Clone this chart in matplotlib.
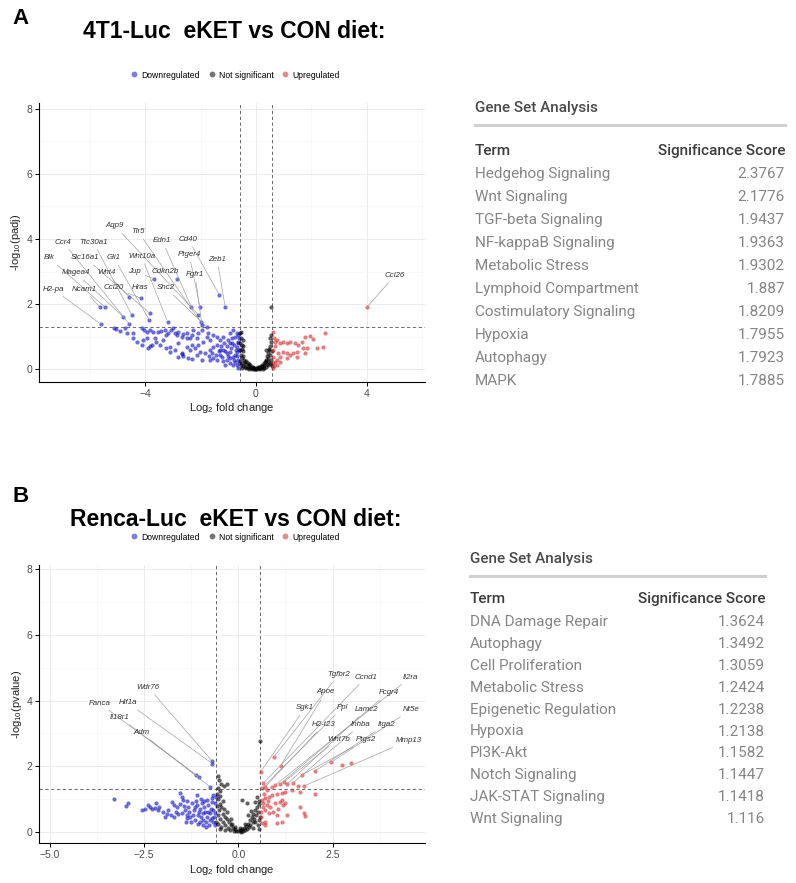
import matplotlib
matplotlib.use('Agg')
import matplotlib.pyplot as plt
from matplotlib.ticker import MultipleLocator
from matplotlib.lines import Line2D

plt.rcParams['font.family'] = ['Liberation Sans', 'DejaVu Sans']
plt.rcParams['mathtext.fontset'] = 'custom'
plt.rcParams['mathtext.rm'] = 'Liberation Sans'
plt.rcParams['mathtext.it'] = 'Liberation Sans:italic'

# ---- panel A : 4T1-Luc volcano (log2FC, -log10 padj) ----
a_down_x = [-5.63, -5.44, -5.61, -4.79, -4.60, -4.57, -4.48, -4.14, -3.83, -3.85, -3.68, -3.19, -2.86, -2.33,
            -2.02, -2.08, -2.00, -1.32, -1.11, -1.78, -1.95,
            -5.13, -5.06, -4.91, -4.73, -4.67, -4.43, -4.13, -4.04, -3.95, -3.83, -3.71, -3.53, -3.41, -3.29,
            -3.17, -3.05, -2.99, -2.92, -2.86, -2.80, -2.68, -2.62, -2.50, -2.38, -2.26, -2.14, -2.08, -1.96,
            -1.90, -1.78, -1.66, -1.54, -1.42, -1.30, -1.18, -1.06, -0.94, -0.88, -0.82, -0.76, -0.70, -0.64,
            -0.60, -0.94, -0.82, -1.12, -1.00, -0.70, -1.66, -1.84, -2.02, -2.20, -2.38, -2.50, -2.68, -2.80,
            -2.92, -3.11, -3.23, -3.47, -3.59, -3.77, -3.89, -4.07, -4.31, -4.43, -3.95, -3.65, -3.35, -3.23,
            -2.80, -2.32, -2.14, -1.96, -1.66, -1.42, -1.24, -1.06, -0.94, -0.76, -0.70, -0.64, -0.60, -0.64,
            -0.82, -0.94, -1.18, -1.30, -1.42, -1.54, -1.72, -2.08, -2.32, -2.50, -2.65, -2.44, -2.30, -4.13,
            -3.11, -3.83, -2.68, -0.65, -0.70, -0.75, -0.80, -0.68, -0.72, -0.78, -0.90, -1.00, -1.10, -1.20,
            -1.30, -0.62, -0.66, -0.85, -0.95, -1.05, -1.15, -1.25, -1.35, -1.45, -1.55, -1.60, -1.70]
a_down_y = [1.90, 1.90, 1.39, 1.61, 2.23, 1.39, 1.67, 2.18, 1.72, 1.51, 2.78, 1.46, 2.77, 1.90,
            1.90, 1.67, 1.46, 2.28, 1.90, 1.31, 1.36,
            1.26, 1.23, 1.18, 1.26, 1.10, 1.12, 1.26, 1.20, 1.15, 1.20, 1.15, 1.15, 1.18, 1.20,
            1.10, 1.20, 1.26, 1.10, 1.05, 1.15, 1.00, 1.08, 0.95, 0.95, 1.20, 0.95, 0.74, 1.20,
            0.85, 1.00, 0.90, 0.69, 0.74, 0.59, 0.59, 0.49, 0.54, 0.80, 0.39, 1.00, 0.69, 0.29,
            0.18, 0.18, 0.13, 0.13, 0.90, 1.10, 0.59, 0.49, 0.54, 0.64, 0.59, 0.69, 0.49, 0.39,
            0.59, 0.69, 0.64, 0.74, 0.85, 0.74, 0.64, 0.90, 0.85, 0.95, 0.95, 0.95, 0.90, 1.05,
            0.80, 0.74, 0.44, 0.29, 0.29, 0.29, 0.39, 0.29, 0.34, 0.44, 0.54, 0.80, 0.95, 1.05,
            1.20, 1.10, 1.00, 0.90, 1.00, 1.05, 1.10, 1.10, 1.05, 1.10, 0.41, 0.34, 0.32, 0.74,
            0.54, 0.70, 0.47, 0.05, 0.12, 0.22, 0.30, 0.40, 0.60, 0.75, 0.65, 0.40, 0.55, 0.25,
            0.45, 0.60, 0.85, 0.95, 0.80, 0.70, 0.80, 0.70, 0.55, 0.45, 0.35, 0.50, 0.40]

a_ns_x = [-0.57, -0.55, -0.56, -0.52, -0.50, -0.48, -0.55, -0.50, -0.45, -0.42, -0.40, -0.38, -0.35, -0.30,
          -0.28, -0.25, -0.22, -0.20, -0.18, -0.15, -0.12, -0.10, -0.08, -0.05, -0.02, 0.00, 0.02, 0.05,
          0.08, 0.10, 0.12, 0.15, 0.18, 0.20, 0.22, 0.25, 0.28, 0.30, 0.32, 0.35, 0.38, 0.40, 0.42, 0.44,
          0.46, 0.48, 0.50, 0.52, 0.54, 0.56, 0.55, 0.50, 0.45, -0.57, -0.55, -0.50, -0.45, -0.52, -0.58,
          -0.53, -0.35, -0.30, 0.30, 0.35, 0.40, 0.53, 0.57, 0.58, -0.25, 0.25, -0.15, 0.15, -0.40, 0.45,
          -0.48, -0.46, 0.38, 0.50, 0.55]
a_ns_y = [1.10, 0.95, 0.80, 0.75, 0.62, 0.55, 0.45, 0.35, 0.42, 0.30, 0.22, 0.15, 0.25, 0.18,
          0.10, 0.15, 0.06, 0.12, 0.05, 0.08, 0.03, 0.06, 0.02, 0.04, 0.01, 0.02, 0.05, 0.02,
          0.06, 0.03, 0.08, 0.05, 0.10, 0.06, 0.14, 0.10, 0.18, 0.12, 0.22, 0.30, 0.25, 0.40, 0.50, 0.35,
          0.62, 0.58, 0.70, 0.45, 0.85, 0.30, 0.15, 0.20, 0.12, 0.25, 0.12, 0.05, 0.10, 0.20, 0.60,
          1.15, 0.05, 0.04, 0.03, 0.07, 0.15, 1.90, 0.55, 0.10, 0.02, 0.02, 0.01, 0.01, 0.08, 0.25,
          0.90, 0.70, 0.60, 0.95, 1.05]

a_up_x = [0.63, 0.69, 0.75, 0.87, 0.99, 1.11, 1.23, 1.41, 1.53, 1.65, 1.77, 1.95, 2.07, 2.19, 2.49, 2.43,
          1.83, 1.71, 1.47, 1.35, 1.23, 1.11, 0.99, 0.87, 0.81, 0.75, 0.69, 0.63, 0.75, 0.87, 1.11, 1.47,
          1.77, 0.63, 0.62, 0.65, 0.70, 0.60, 0.65, 4.00]
a_up_y = [1.15, 0.85, 0.90, 0.80, 0.85, 0.80, 0.85, 0.80, 0.74, 0.85, 1.00, 1.02, 0.92, 0.64, 1.12, 0.69,
          0.64, 0.64, 0.54, 0.49, 0.44, 0.49, 0.54, 0.39, 0.49, 0.29, 0.23, 0.18, 0.13, 0.23, 0.34, 0.39,
          0.49, 0.39, 0.60, 0.95, 0.70, 0.05, 0.10, 1.90]

a_genes = ['Aqp9', 'Tlr5', 'Edn1', 'Cd40', 'Ccr4', 'Ttc30a1', 'Blk', 'Slc16a1', 'Gli1', 'Wnt10a', 'Ptger4',
           'Zeb1', 'Magea4', 'Wnt4', 'Jup', 'Cdkn2b', 'Fgfr1', 'H2-pa', 'Ncam1', 'Ccl20', 'Hras', 'Shc2', 'Ccl26']
a_gene_x = [-2.08, -2.00, -2.33, -1.32, -4.57, -4.48, -5.44, -3.83, -3.85, -3.19, -2.02, -1.11, -4.79, -4.60,
            -3.68, -2.86, -1.95, -5.61, -5.63, -4.14, -3.68, -1.78, 4.00]
a_gene_y = [1.67, 1.46, 1.90, 2.28, 1.39, 1.67, 1.90, 1.72, 1.51, 1.46, 1.90, 1.90, 1.61, 2.23,
            2.78, 2.77, 1.36, 1.39, 1.90, 2.18, 2.78, 1.31, 1.90]
a_lab_x = [-5.09, -4.25, -3.38, -2.44, -6.96, -5.87, -7.46, -6.17, -5.12, -4.13, -2.41, -1.40, -6.50, -5.39,
           -4.37, -3.26, -2.20, -7.32, -6.21, -5.13, -4.19, -3.26, 5.02]
a_lab_y = [4.40, 4.22, 3.95, 3.99, 3.90, 3.90, 3.42, 3.42, 3.42, 3.47, 3.53, 3.37, 2.96, 2.96,
           3.00, 3.00, 2.90, 2.46, 2.46, 2.50, 2.50, 2.50, 2.89]

# ---- panel B : Renca-Luc volcano (log2FC, -log10 pvalue) ----
b_down_x = [-0.70, -0.69, -1.12, -1.04, -0.75,
            -3.31, -2.98, -2.94, -2.56, -2.47, -2.39, -2.34, -2.30, -2.18, -2.12, -2.10, -1.86, -1.77, -1.71,
            -1.64, -1.55, -1.50, -1.46, -1.41, -1.37, -1.33, -1.28, -1.24, -1.19, -1.15, -1.10, -1.06, -1.02,
            -0.97, -0.93, -0.88, -0.84, -0.80, -0.75, -0.71, -0.66, -0.62, -0.60, -0.66, -0.71, -0.84, -1.10,
            -1.37, -1.02, -0.93, -0.75, -0.62,
            -1.40, -1.30, -1.20, -1.15, -1.05, -0.98, -0.90, -0.85, -0.80, -0.78, -0.72, -0.68, -0.65, -0.63,
            -0.90, -1.00, -0.70, -1.60, -1.70, -1.90, -2.00, -1.55, -1.25, -0.95, -0.85, -1.50, -1.95, -2.20,
            -1.65, -1.80, -1.45, -1.35, -1.12, -1.08]
b_down_y = [2.16, 2.08, 1.73, 1.66, 1.37,
            1.00, 0.79, 0.88, 0.66, 0.71, 0.81, 0.76, 0.68, 0.89, 0.66, 0.76, 0.66, 0.92, 0.81,
            0.76, 1.17, 0.56, 0.97, 0.66, 0.51, 0.76, 0.46, 0.87, 0.66, 0.36, 1.12, 0.51, 0.71,
            0.87, 0.36, 0.61, 0.46, 0.81, 0.56, 0.41, 0.66, 0.87, 1.07, 1.12, 1.02, 0.97, 0.81,
            0.41, 0.31, 0.56, 0.36, 0.56,
            0.30, 0.60, 0.50, 0.75, 0.60, 0.45, 0.75, 0.30, 0.60, 0.22, 0.70, 0.30, 0.45, 0.20,
            0.95, 1.00, 0.90, 0.55, 0.45, 0.55, 0.60, 0.85, 0.30, 0.20, 0.15, 1.05, 0.45, 0.72,
            0.60, 0.50, 0.80, 0.95, 0.95, 0.25]

b_ns_x = [-0.55, -0.52, -0.45, -0.55, -0.50, -0.58, -0.48, -0.55, -0.42, -0.50, -0.58, -0.45, -0.38, -0.52,
          -0.40, -0.55, -0.35, -0.48, -0.30, -0.42, -0.25, -0.55, -0.35, -0.20, -0.45, -0.28, -0.15, -0.50,
          -0.35, -0.22, -0.10, -0.05, 0.00, 0.03, 0.06, 0.10, 0.12, 0.15, 0.18, 0.20, 0.22, 0.25, 0.28,
          0.30, 0.32, 0.35, 0.38, 0.40, 0.42, 0.45, 0.48, 0.50, 0.52, 0.55, 0.57, 0.55, 0.50, 0.45, 0.52,
          0.56, 0.40, -0.12, 0.08, -0.08, 0.05, -0.18, 0.18, -0.30, -0.20, 0.58, 0.10, -0.38, -0.60, 0.25,
          0.33, 0.45, 0.55, 0.23, -0.31]
b_ns_y = [1.70, 1.58, 1.45, 1.35, 1.25, 1.15, 1.10, 1.00, 0.95, 0.85, 0.80, 0.75, 0.70, 0.65,
          0.55, 0.50, 0.45, 0.40, 0.38, 0.30, 0.30, 0.25, 0.22, 0.20, 0.15, 0.12, 0.12, 0.08,
          0.06, 0.05, 0.08, 0.03, 0.02, 0.05, 0.02, 0.08, 0.04, 0.12, 0.06, 0.18, 0.10, 0.25, 0.15,
          0.35, 0.20, 0.45, 0.30, 0.55, 0.40, 0.65, 0.50, 0.75, 0.60, 0.85, 0.45, 0.95, 1.05, 0.30, 0.20,
          0.10, 0.12, 0.01, 0.00, 0.15, 0.12, 0.25, 0.25, 0.60, 0.40, 2.78, 0.98, 1.40, 0.30, 0.50,
          0.62, 0.90, 0.35, 0.89, 1.47]

b_up_x = [0.59, 0.95, 1.12, 0.66, 0.71, 0.62, 0.75, 0.89, 0.97, 1.11, 1.22, 1.30, 1.44, 1.59, 1.68, 1.73,
          2.03, 2.46, 2.74, 2.99, 2.03, 1.64, 1.42, 1.24, 1.15, 1.02, 0.89, 0.80, 0.71, 0.62, 0.66, 0.75,
          0.84, 0.97, 1.11, 1.15, 1.24, 1.19, 1.06, 0.93, 1.02, 1.28, 1.64, 1.73, 1.77, 0.71, 0.62, 1.02,
          1.15, 0.80, 0.71, 0.60, 0.65, 0.60, 0.68, 0.70, 0.78]
b_up_y = [1.83, 2.29, 2.01, 1.48, 1.37, 1.32, 1.27, 1.37, 1.42, 1.46, 1.53, 1.46, 1.48, 1.39, 1.73, 1.39,
          1.85, 2.12, 2.03, 2.11, 1.15, 1.22, 1.27, 1.22, 1.19, 1.15, 1.12, 1.07, 1.02, 0.97, 0.87, 0.82,
          0.76, 0.87, 0.92, 0.97, 0.89, 0.82, 0.71, 0.61, 0.51, 0.51, 0.76, 0.56, 0.48, 0.31, 0.26, 0.26,
          0.31, 0.56, 0.66, 0.60, 0.75, 0.45, 1.15, 0.20, 0.95]

b_genes = ['Wdr76', 'Fanca', 'Hif1a', 'Il18r1', 'Adm', 'Tgfbr2', 'Ccnd1', 'Il2ra', 'Apoe', 'Fcgr4', 'Sgk1',
           'Ppl', 'Lamc2', 'Nt5e', 'H2-t23', 'Inhba', 'Itga2', 'Wnt7b', 'Ptgs2', 'Mmp13']
b_gene_x = [-0.70, -1.12, -0.69, -1.04, -0.75, 0.95, 0.66, 0.97, 1.12, 1.11, 0.59,
            0.62, 1.30, 2.46, 0.71, 1.44, 2.03, 1.22, 1.68, 1.73]
b_gene_y = [2.16, 1.73, 2.08, 1.66, 1.37, 2.29, 1.48, 1.42, 2.01, 1.46, 1.83,
            1.32, 1.46, 2.12, 1.37, 1.48, 1.85, 1.53, 1.73, 1.39]
b_lab_x = [-2.39, -3.69, -2.94, -3.14, -2.58, 2.65, 3.39, 4.57, 2.32, 3.98, 1.77,
           2.76, 3.41, 4.58, 2.27, 3.25, 3.92, 2.65, 3.39, 4.51]
b_lab_y = [4.40, 3.92, 3.93, 3.48, 3.02, 4.78, 4.71, 4.71, 4.27, 4.24, 3.78,
           3.78, 3.73, 3.72, 3.27, 3.27, 3.27, 2.82, 2.80, 2.78]

# ---- gene set tables ----
a_terms = ['Hedgehog Signaling', 'Wnt Signaling', 'TGF-beta Signaling', 'NF-kappaB Signaling',
           'Metabolic Stress', 'Lymphoid Compartment', 'Costimulatory Signaling', 'Hypoxia',
           'Autophagy', 'MAPK']
a_scores = ['2.3767', '2.1776', '1.9437', '1.9363', '1.9302', '1.887', '1.8209', '1.7955', '1.7923', '1.7885']
b_terms = ['DNA Damage Repair', 'Autophagy', 'Cell Proliferation', 'Metabolic Stress',
           'Epigenetic Regulation', 'Hypoxia', 'PI3K-Akt', 'Notch Signaling', 'JAK-STAT Signaling',
           'Wnt Signaling']
b_scores = ['1.3624', '1.3492', '1.3059', '1.2424', '1.2238', '1.2138', '1.1582', '1.1447', '1.1418', '1.116']

W, H = 796, 883
fig = plt.figure(figsize=(W / 100, H / 100), dpi=100)

c_down, c_ns, c_up = '#1212c8', '#000000', '#d42a2a'


def px(x, y):
    return x / W, 1 - y / H


def volcano(rect, dx, dy, nx, ny, ux, uy, genes, gx, gy, lx, ly, xlim, ylim, major, minor, ylab):
    ax = fig.add_axes(rect)
    ax.set_xlim(*xlim)
    ax.set_ylim(*ylim)
    ax.xaxis.set_major_locator(MultipleLocator(major))
    ax.xaxis.set_minor_locator(MultipleLocator(minor))
    ax.yaxis.set_major_locator(MultipleLocator(2))
    ax.yaxis.set_minor_locator(MultipleLocator(1))
    ax.grid(which='major', color='#ebebeb', lw=0.7)
    ax.grid(which='minor', color='#f4f4f4', lw=0.4)
    ax.set_axisbelow(True)
    ax.tick_params(which='minor', length=0)
    ax.tick_params(which='major', length=3, width=0.7, labelsize=7.5, labelcolor='#4d4d4d', pad=2)
    for s in ['top', 'right']:
        ax.spines[s].set_visible(False)
    for s in ['left', 'bottom']:
        ax.spines[s].set_linewidth(0.8)
    ax.scatter(dx, dy, s=9, color=c_down, alpha=0.62, lw=0, zorder=3)
    ax.scatter(nx, ny, s=9, color=c_ns, alpha=0.62, lw=0, zorder=3)
    ax.scatter(ux, uy, s=9, color=c_up, alpha=0.6, lw=0, zorder=3)
    ax.axvline(-0.585, color='#555555', ls=(0, (4, 3)), lw=0.6, zorder=2)
    ax.axvline(0.585, color='#555555', ls=(0, (4, 3)), lw=0.6, zorder=2)
    ax.axhline(1.301, color='#555555', ls=(0, (4, 3)), lw=0.6, zorder=2)
    for g, x0, y0, x1, y1 in zip(genes, gx, gy, lx, ly):
        ax.annotate(g, xy=(x0, y0), xytext=(x1, y1), fontsize=5.7, style='italic', color='#333333',
                    ha='center', va='center', zorder=4,
                    arrowprops=dict(arrowstyle='-', color='#9a9a9a', lw=0.45, shrinkA=1, shrinkB=1))
    ax.set_xlabel('Log$_2$ fold change', fontsize=8, color='#222222', labelpad=2)
    ax.set_ylabel(ylab, fontsize=8, color='#222222', labelpad=2)
    return ax


def legend(cy):
    hs = [Line2D([], [], ls='', marker='o', ms=4.2, color=c, alpha=0.55, mec='none') for c in (c_down, c_ns, c_up)]
    fig.legend(hs, ['Downregulated', 'Not significant', 'Upregulated'], ncol=3, loc='center',
               bbox_to_anchor=(234 / W, 1 - cy / H), frameon=False, fontsize=6.2, handletextpad=0.1,
               columnspacing=0.7, handlelength=1.4, borderpad=0)


def table(x0, x1, ytitle, yline, yhead, y0, dy, terms, scores):
    fs = 11
    fig.text(*px(x0, ytitle), 'Gene Set Analysis', family='Roboto', weight='medium', fontsize=fs,
             color='#4a4a4a', va='center')
    fig.add_artist(Line2D([x0 / W, x1 / W], [1 - yline / H] * 2, color='#d0d0d0', lw=2.2))
    fig.text(*px(x0, yhead), 'Term', family='Roboto', weight='medium', fontsize=fs, color='#3c3c3c', va='center')
    fig.text(*px(x1, yhead), 'Significance Score', family='Roboto', weight='medium', fontsize=fs,
             color='#3c3c3c', va='center', ha='right')
    for i, (t, s) in enumerate(zip(terms, scores)):
        y = y0 + i * dy
        fig.text(*px(x0, y), t, family='Roboto', weight='normal', fontsize=fs, color='#858585', va='center')
        fig.text(*px(x1, y), s, family='Roboto', weight='normal', fontsize=fs, color='#858585', va='center',
                 ha='right')


# panel A
fig.text(*px(12, 18), 'A', fontsize=16, weight='bold', va='center')
fig.text(*px(83, 32), '4T1-Luc  eKET vs CON diet:', fontsize=16.5, weight='bold', va='center')
legend(75)
volcano([39 / W, 1 - 381.7 / H, 386 / W, 279 / H], a_down_x, a_down_y, a_ns_x, a_ns_y, a_up_x, a_up_y,
        a_genes, a_gene_x, a_gene_y, a_lab_x, a_lab_y, (-7.83, 6.1), (-0.38, 8.18), 4, 2,
        '-log$_{10}$(padj)')
table(475, 785, 108, 125, 151, 174, 23, a_terms, a_scores)

# panel B
fig.text(*px(12, 497), 'B', fontsize=16, weight='bold', va='center')
fig.text(*px(70, 519), 'Renca-Luc  eKET vs CON diet:', fontsize=16.5, weight='bold', va='center')
legend(537)
volcano([39.3 / W, 1 - 843.3 / H, 385.7 / W, 278.3 / H], b_down_x, b_down_y, b_ns_x, b_ns_y, b_up_x, b_up_y,
        b_genes, b_gene_x, b_gene_y, b_lab_x, b_lab_y, (-5.28, 4.95), (-0.35, 8.13), 2.5, 1.25,
        '-log$_{10}$(pvalue)')
table(470, 765, 559, 576, 599, 622, 21.9, b_terms, b_scores)

fig.savefig('out.png', dpi=100, facecolor='white')
